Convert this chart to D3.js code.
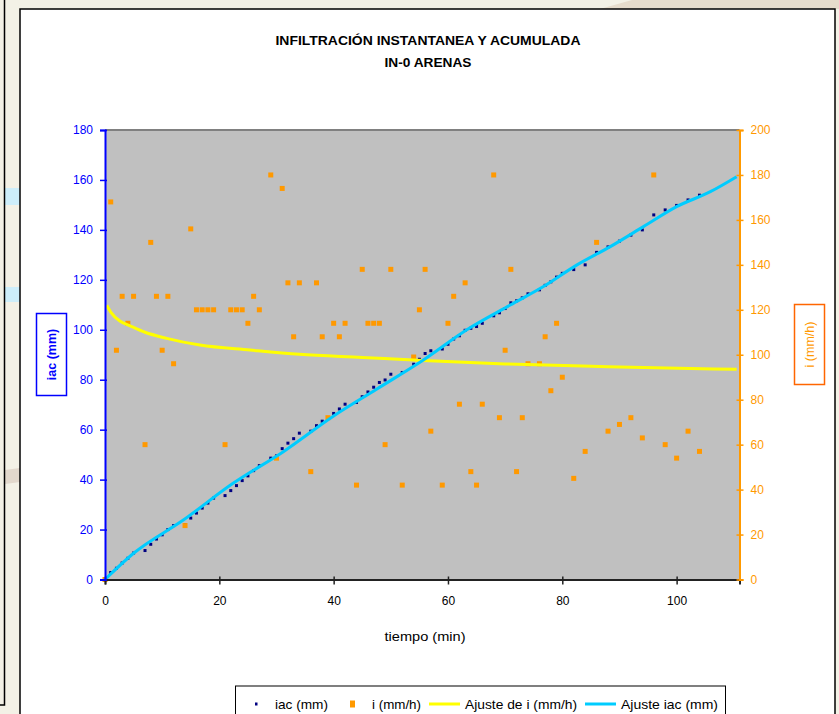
<!DOCTYPE html>
<html>
<head>
<meta charset="utf-8">
<script src="https://cdn.jsdelivr.net/npm/d3@7"></script>
<style>
  html, body { margin: 0; padding: 0; background: #ffffff; }
  svg { display: block; }
  text { font-family: "Liberation Sans", Arial, sans-serif; }
</style>
</head>
<body>
<svg id="chart" width="839" height="714"></svg>
<script>
// Measurement times (min)
const tiempo = [0,1,2,3,4,5,7,8,9,10,11,12,14,15,16,17,18,19,21,22,23,24,25,26,27,29,30,31,32,33,34,36,37,38,39,40,41,42,44,45,46,47,48,49,50,52,54,55,56,57,59,60,61,62,63,64,65,66,68,69,70,71,72,73,74,76,77,78,79,80,82,84,86,88,90,92,94,96,98,100,102,104];
// Accumulated infiltration (mm)
const iacValues = [0,2.8,4.5,6.6,8.5,10.6,11.6,14.1,16.2,17.9,20.0,21.6,22.0,24.6,26.6,28.6,30.6,32.6,33.6,35.6,37.6,39.6,41.5,43.6,45.6,48.6,49.5,52.4,54.6,56.4,58.6,59.4,61.6,63.4,64.6,66.5,68.3,70.2,70.9,73.2,75.1,77.0,78.9,79.9,82.2,82.9,86.2,88.2,90.5,91.6,92.3,94.2,96.3,97.6,99.8,100.6,101.3,102.6,105.6,106.8,108.5,110.8,111.6,112.8,114.4,116.0,117.8,119.2,121.1,122.6,124.1,126.0,131.0,133.2,135.5,137.9,140.0,146.0,148.0,149.8,152.0,153.9];
// Instantaneous infiltration rate (mm/h)
const iValues = [0,168,102,126,114,126,60,150,126,102,126,96,24,156,120,120,120,120,60,120,120,120,114,126,120,180,54,174,132,108,132,48,132,108,72,114,108,114,42,138,114,114,114,60,138,42,99,120,138,66,42,114,126,78,132,48,42,78,180,72,102,138,48,72,96,96,108,84,114,90,45,57,150,66,69,72,63,180,60,54,66,57];

// Fitted curves
const ajusteITiempo = [0.3,1,2.6,4.3,7,10.8,16.6,25.4,34,45,55.7,70,88,110.5];
const ajusteIValues = [122,119,115,113,110,107.3,104.3,102.1,100.2,98.8,97.4,95.9,94.7,93.5];
const ajusteIacTiempo = [0,5,13.7,22.4,31.2,40,47.5,55.7,63.3,70.9,76.7,82.5,88.4,94.2,100,105.9,110.5];
const ajusteIacValues = [0,10.5,23.8,38.5,51.2,65.5,76.2,87.9,100,109.9,117.3,125.9,133.3,141.3,149.3,155.3,161.3];

// Axis ticks
const xTicks = [0,20,40,60,80,100];
const leftTicks = [0,20,40,60,80,100,120,140,160,180];
const rightTicks = [0,20,40,60,80,100,120,140,160,180,200];

const titleLines = ["INFILTRACIÓN INSTANTANEA Y ACUMULADA", "IN-0 ARENAS"];

const svg = d3.select("#chart");

// Surroundings of the chart object
svg.append("rect").attr("x",0).attr("y",0).attr("width",839).attr("height",714).attr("fill","#f3f1e6");
svg.append("polygon").attr("points","600,9 632,0 839,0 839,9").attr("fill","#e6dccc");
svg.append("rect").attr("x",5).attr("y",188).attr("width",15).attr("height",17).attr("fill","#cdeefa");
svg.append("rect").attr("x",5).attr("y",287).attr("width",15).attr("height",15).attr("fill","#cdeefa");
svg.append("polygon").attr("points","5,470 20,468 20,482 5,484").attr("fill","#e2d8cc");
svg.append("path").attr("d","M4.5,0 V705 H0").attr("fill","none").attr("stroke","#000").attr("stroke-width",1.5);

// Chart area
svg.append("rect").attr("x",20).attr("y",9).attr("width",815).attr("height",720)
  .attr("fill","#ffffff").attr("stroke","#000").attr("stroke-width",1.5);

const plot = {left:105, right:739.5, top:130, bottom:579.5};

const x = d3.scaleLinear().domain([0,111]).range([plot.left, plot.right]);
const yL = d3.scaleLinear().domain([0,180]).range([plot.bottom, plot.top]);
const yR = d3.scaleLinear().domain([0,200]).range([plot.bottom, plot.top]);

// Plot area
svg.append("rect").attr("x",plot.left).attr("y",plot.top)
  .attr("width",plot.right-plot.left).attr("height",plot.bottom-plot.top)
  .attr("fill","#c0c0c0");
svg.append("line").attr("x1",plot.left).attr("x2",plot.right).attr("y1",plot.top).attr("y2",plot.top)
  .attr("stroke","#808080").attr("stroke-width",2);

// Title
svg.append("text").attr("x",428).attr("y",45).attr("text-anchor","middle")
  .attr("font-size",13).attr("font-weight","bold").attr("fill","#000")
  .attr("textLength",305).attr("lengthAdjust","spacingAndGlyphs").text(titleLines[0]);
svg.append("text").attr("x",428).attr("y",67).attr("text-anchor","middle")
  .attr("font-size",13).attr("font-weight","bold").attr("fill","#000")
  .attr("textLength",87).attr("lengthAdjust","spacingAndGlyphs").text(titleLines[1]);

// Series
const gData = svg.append("g");
gData.selectAll("rect.iac").data(tiempo.map((t,k)=>[t,iacValues[k]])).enter()
  .append("rect").attr("class","iac")
  .attr("x",d=>x(d[0])-1.5).attr("y",d=>yL(d[1])-1.5).attr("width",3).attr("height",3)
  .attr("fill","#000080");
gData.selectAll("rect.i").data(tiempo.map((t,k)=>[t,iValues[k]])).enter()
  .append("rect").attr("class","i")
  .attr("x",d=>x(d[0])-2.5).attr("y",d=>yR(d[1])-2.5).attr("width",5).attr("height",5)
  .attr("fill","#ff9900");

const lineI = d3.line().x(d=>x(d[0])).y(d=>yR(d[1])).curve(d3.curveMonotoneX);
gData.append("path").datum(ajusteITiempo.map((t,k)=>[t,ajusteIValues[k]]))
  .attr("d",lineI).attr("fill","none").attr("stroke","#ffff00").attr("stroke-width",3);
const lineIac = d3.line().x(d=>x(d[0])).y(d=>yL(d[1])).curve(d3.curveMonotoneX);
gData.append("path").datum(ajusteIacTiempo.map((t,k)=>[t,ajusteIacValues[k]]))
  .attr("d",lineIac).attr("fill","none").attr("stroke","#00ccff").attr("stroke-width",3);

// Axes
function styleAxis(g, color, inner, outer, horiz) {
  g.select(".domain").attr("stroke",color).attr("stroke-width",2);
  g.selectAll(".tick line").attr("stroke",color).attr("stroke-width",1.5);
  if (horiz) g.selectAll(".tick line").attr("y1",-inner).attr("y2",outer);
  g.selectAll(".tick text").attr("fill",color).attr("font-size",12)
    .attr("font-family","'Liberation Sans', Arial, sans-serif");
}

const gx = svg.append("g").attr("transform",`translate(0,${plot.bottom})`)
  .call(d3.axisBottom(x).tickValues(xTicks).tickSizeOuter(0).tickSize(5).tickPadding(12).tickFormat(d3.format("d")));
styleAxis(gx, "#222", 3, 5, true);
gx.selectAll(".tick text").attr("fill","#000");

const gl = svg.append("g").attr("transform",`translate(${plot.left},0)`)
  .call(d3.axisLeft(yL).tickValues(leftTicks).tickSizeOuter(0).tickSize(5).tickPadding(7).tickFormat(d3.format("d")));
styleAxis(gl, "#0000ff", 0, 0, false);
gl.selectAll(".tick line").attr("x1",2).attr("x2",-5);

const gr = svg.append("g").attr("transform",`translate(${plot.right},0)`)
  .call(d3.axisRight(yR).tickValues(rightTicks).tickSizeOuter(0).tickSize(4).tickPadding(7).tickFormat(d3.format("d")));
styleAxis(gr, "#ff9900", 0, 0, false);
gr.selectAll(".tick line").attr("x1",-3).attr("x2",4);

// Axis titles
svg.append("text").attr("x",425).attr("y",641).attr("text-anchor","middle")
  .attr("font-size",12).attr("fill","#000")
  .attr("textLength",81).attr("lengthAdjust","spacingAndGlyphs").text("tiempo (min)");

svg.append("rect").attr("x",36.5).attr("y",313.5).attr("width",30).attr("height",82)
  .attr("fill","#fff").attr("stroke","#0000ff").attr("stroke-width",1.5);
svg.append("text").attr("transform","translate(56,354.5) rotate(-90)").attr("text-anchor","middle")
  .attr("font-size",12.5).attr("font-weight","bold").attr("fill","#0000ff").text("iac (mm)");

svg.append("rect").attr("x",794.5).attr("y",304.5).attr("width",30).attr("height",80)
  .attr("fill","#fff").attr("stroke","#ff6600").attr("stroke-width",1.5);
svg.append("text").attr("transform","translate(814,344.5) rotate(-90)").attr("text-anchor","middle")
  .attr("font-size",12.5).attr("fill","#ff9900").text("i (mm/h)");

// Legend
const lg = svg.append("g");
lg.append("rect").attr("x",235.5).attr("y",686).attr("width",490).attr("height",40)
  .attr("fill","#fff").attr("stroke","#000").attr("stroke-width",1);
const legY = 704;
lg.append("rect").attr("x",255).attr("y",legY-1.5).attr("width",2.5).attr("height",3).attr("fill","#000080");
lg.append("text").attr("x",275).attr("y",legY+4.5).attr("font-size",13)
  .attr("textLength",53).attr("lengthAdjust","spacingAndGlyphs").text("iac (mm)");
lg.append("rect").attr("x",350).attr("y",legY-3.5).attr("width",5).attr("height",7).attr("fill","#ff9900");
lg.append("text").attr("x",372).attr("y",legY+4.5).attr("font-size",13)
  .attr("textLength",49).attr("lengthAdjust","spacingAndGlyphs").text("i (mm/h)");
lg.append("line").attr("x1",429).attr("x2",460).attr("y1",legY).attr("y2",legY)
  .attr("stroke","#ffff00").attr("stroke-width",3);
lg.append("text").attr("x",465).attr("y",legY+4.5).attr("font-size",13)
  .attr("textLength",112).attr("lengthAdjust","spacingAndGlyphs").text("Ajuste de i (mm/h)");
lg.append("line").attr("x1",585).attr("x2",616).attr("y1",legY).attr("y2",legY)
  .attr("stroke","#00ccff").attr("stroke-width",3);
lg.append("text").attr("x",621).attr("y",legY+4.5).attr("font-size",13)
  .attr("textLength",97).attr("lengthAdjust","spacingAndGlyphs").text("Ajuste iac (mm)");
</script>
</body>
</html>
